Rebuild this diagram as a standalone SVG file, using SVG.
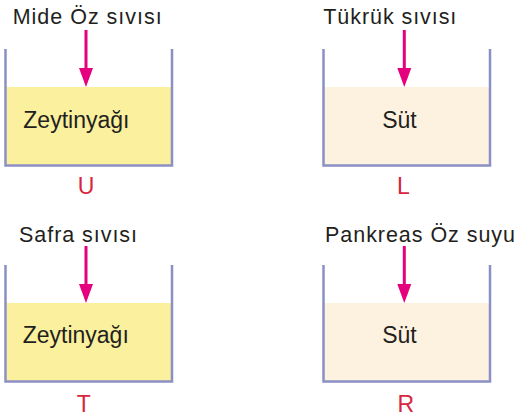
<svg xmlns="http://www.w3.org/2000/svg" width="521" height="417" viewBox="0 0 521 417">
<style>
.t{font-family:"Liberation Sans",Arial,sans-serif;fill:#231f20;font-size:21.5px}
.in{font-family:"Liberation Sans",Arial,sans-serif;fill:#231f20;font-size:23px}
.lb{font-family:"Liberation Sans",Arial,sans-serif;fill:#d7263d;font-size:23px;text-anchor:middle}
.wall{fill:none;stroke:#8b90c4;stroke-width:2.5}
.arr{stroke:#e5007e;stroke-width:3;fill:none}
.ah{fill:#e5007e}
.oil{fill:#faf09d}
.milk{fill:#fdf1df}
</style>
<g id="beakerU">
<rect class="oil" x="6.5" y="87" width="164.5" height="78"/>
<polyline class="wall" points="5.5,49 5.5,165.5 172,165.5 172,49"/>
<text class="t" x="12.7" y="24" textLength="149" lengthAdjust="spacing">Mide Öz sıvısı</text>
<text class="in" x="23.3" y="128">Zeytinyağı</text>
<text class="lb" x="86" y="194">U</text>
</g>
<g id="beakerL">
<rect class="milk" x="324.5" y="87" width="164.5" height="78"/>
<polyline class="wall" points="323.5,49 323.5,165.5 490,165.5 490,49"/>
<text class="t" x="323.3" y="24" textLength="133" lengthAdjust="spacing">Tükrük sıvısı</text>
<text class="in" x="399.5" y="128.3" text-anchor="middle">Süt</text>
<text class="lb" x="403.5" y="194">L</text>
</g>
<g id="beakerT">
<rect class="oil" x="6.5" y="303" width="164.5" height="78"/>
<polyline class="wall" points="5.5,265 5.5,381.5 172,381.5 172,265"/>
<text class="t" x="19" y="242" textLength="118" lengthAdjust="spacing">Safra sıvısı</text>
<text class="in" x="22.7" y="343.3">Zeytinyağı</text>
<text class="lb" x="83.7" y="412">T</text>
</g>
<g id="beakerR">
<rect class="milk" x="324.5" y="303" width="164.5" height="78"/>
<polyline class="wall" points="323.5,265 323.5,381.5 490,381.5 490,265"/>
<text class="t" x="325" y="242" textLength="190" lengthAdjust="spacing">Pankreas Öz suyu</text>
<text class="in" x="399.5" y="342.7" text-anchor="middle">Süt</text>
<text class="lb" x="405.7" y="412">R</text>
</g>
<g id="connectors">
<line class="arr" x1="86" y1="30" x2="86" y2="70"/>
<polygon class="ah" points="79,68 93,68 86,87"/>
<line class="arr" x1="404.3" y1="30" x2="404.3" y2="70"/>
<polygon class="ah" points="397.3,68 411.3,68 404.3,87"/>
<line class="arr" x1="86" y1="246" x2="86" y2="286"/>
<polygon class="ah" points="79,284 93,284 86,303"/>
<line class="arr" x1="404.3" y1="246" x2="404.3" y2="286"/>
<polygon class="ah" points="397.3,284 411.3,284 404.3,303"/>
</g>
</svg>
